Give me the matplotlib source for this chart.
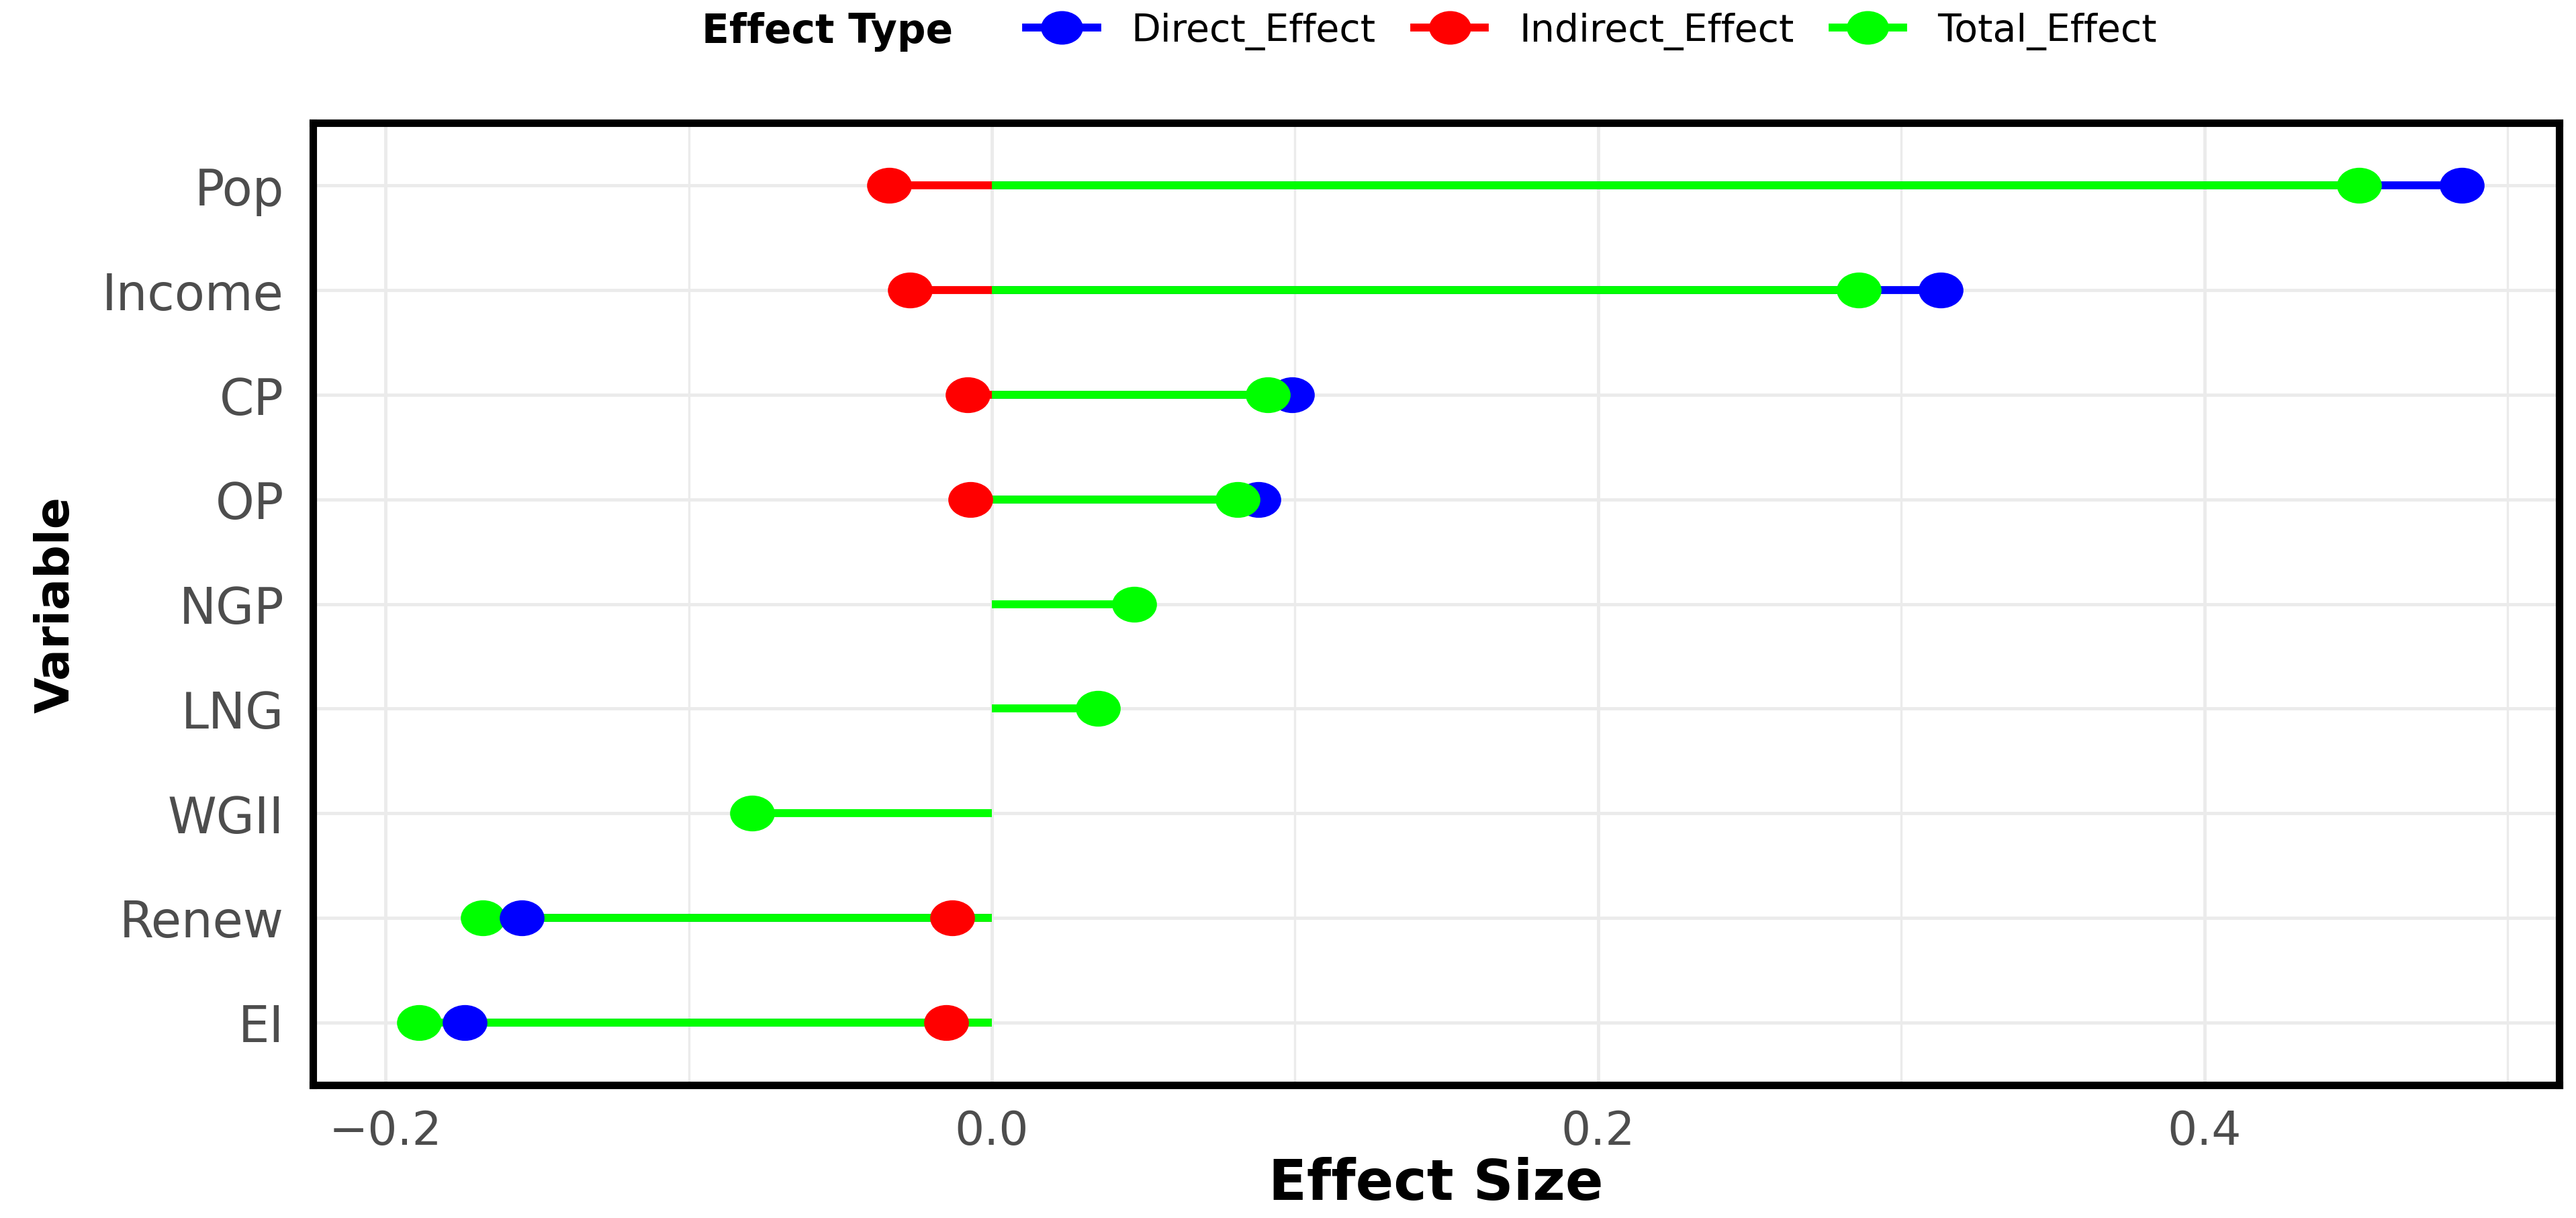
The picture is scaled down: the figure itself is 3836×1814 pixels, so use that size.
import numpy as np
import matplotlib.pyplot as plt
from matplotlib.path import Path
from matplotlib.lines import Line2D

# 数据
variables = ['Pop', 'Income', 'CP', 'OP', 'NGP', 'LNG', 'WGII', 'Renew', 'EI']
direct_effect = [0.485, 0.313, 0.099, 0.088, None, None, None, -0.155, -0.174]
indirect_effect = [-0.034, -0.027, -0.008, -0.007, None, None, None, -0.013, -0.015]
total_effect = [0.451, 0.286, 0.091, 0.081, 0.047, 0.035, -0.079, -0.168, -0.189]

effect_types = ['Direct_Effect', 'Indirect_Effect', 'Total_Effect']
effect_colors = ['#0000FF', '#FF0000', '#00FF00']
series = [direct_effect, indirect_effect, total_effect]

x_ticks = [-0.2, 0.0, 0.2, 0.4]
x_minor = [-0.1, 0.1, 0.3, 0.5]

# 稍微压扁的圆点（原图横向被拉伸）
circle = Path.unit_circle()
ellipse = Path(circle.vertices * np.array([1.0, 0.8]), circle.codes)

fig = plt.figure(figsize=(38.37, 18.15), dpi=100)
ax = fig.add_axes([0.1214, 0.1091, 0.8718, 0.7895])

y = np.arange(len(variables))[::-1]

# 线段：从 0 到效应值
for vals, col in zip(series, effect_colors):
    for yi, v in zip(y, vals):
        if v is None:
            continue
        ax.plot([0, v], [yi, yi], color=col, lw=8.5, solid_capstyle='butt', zorder=3)

# 点
for i, yi in enumerate(y):
    order = [0, 1, 2] if total_effect[i] >= 0 else [2, 0, 1]
    for k, j in enumerate(order):
        v = series[j][i]
        if v is None:
            continue
        ax.plot(v, yi, marker=ellipse, ms=48, color=effect_colors[j],
                mec=effect_colors[j], mew=0, zorder=5 + k)

ax.set_xlim(-0.224, 0.517)
ax.set_ylim(-0.6, len(variables) - 0.4)
ax.set_yticks(y)
ax.set_yticklabels(variables)
ax.set_xticks(x_ticks)
ax.set_xticklabels([f'{t:.1f}'.replace('-', '\u2212') for t in x_ticks])
ax.set_xticks(x_minor, minor=True)

ax.set_axisbelow(True)
ax.grid(which='major', color='#EBEBEB', lw=3.5)
ax.grid(which='minor', axis='x', color='#EBEBEB', lw=2.4)
ax.tick_params(which='both', length=0)
ax.tick_params(axis='x', labelsize=50, colors='#4D4D4D', pad=25)
ax.tick_params(axis='y', labelsize=53, colors='#4D4D4D', pad=31)

for s in ax.spines.values():
    s.set_color('black')
    s.set_linewidth(8)

ax.set_xlabel('Effect Size', fontsize=60, fontweight='bold')
ax.xaxis.label.set_va('baseline')
ax.xaxis.set_label_coords(0.5, -0.1186)
ax.set_ylabel('Variable', fontsize=50, fontweight='bold')
ax.yaxis.label.set_va('baseline')
ax.yaxis.set_label_coords(-0.1085, 0.5)

# 图例
handles = [Line2D([], [], color=c, lw=8.5, marker=ellipse, ms=45, mew=0) for c in effect_colors]
fig.legend(handles, effect_types, loc='center', bbox_to_anchor=(0.6177, 0.974), ncol=3,
           frameon=False, fontsize=41, handlelength=1.85, handletextpad=0.9,
           columnspacing=1.0, borderpad=0)
fig.text(0.2723, 0.974, 'Effect Type', fontsize=43, fontweight='bold', va='center')

fig.savefig('out.png', dpi=100, facecolor='white')
